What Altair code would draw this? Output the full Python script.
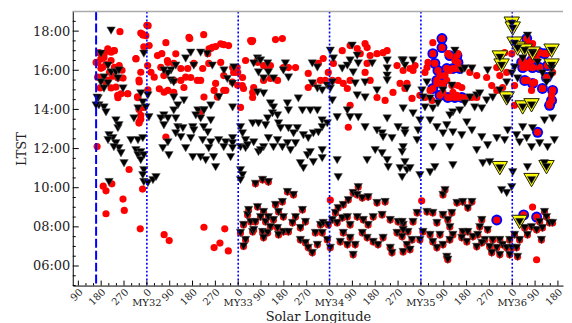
import altair as alt
import pandas as pd

# ---------------- data (x = cumulative solar longitude from MY31 Ls 0, y = LTST hours) ----------------
# plain red circles
red_my31 = [(167,16.4),(179,16.1),(191,16.65),(207,17.0),(230,17.0),(254,17.97),(187,15.6),(207,15.5),(219,15.1),
            (246,14.6),(258,14.8),(285,14.8),(246,15.6),(250,16.1),(266,15.6),(317,16.6),(336,17.9),(344,17.8),
            (360,18.3),(348,17.2),(336,15.9),(329,15.5),(325,14.6),(329,14.0),(336,13.5),(329,13.3),(348,14.1),
            (364,15.0),(160,16.4),(192,16.84),(219,16.92),(232,17.0),(186,16.15),(166,15.65),(238,15.14),
            (245,14.72),(284,14.8),(232,16.15),(251,16.24),(219,16.5),(179,16.58),(206,17.09),(317,16.58),
            (343,17.85),(356,17.77),(365,18.28),(330,15.4),(323,14.64),(330,14.04),(336,13.7),(330,13.36),
            (369,17.26),(363,16.24),(376,15.9),(172,16.9),(199,16.3),(213,15.9),(226,15.7),(262,16.0),
            (176,15.1),(198,15.4)]
red_low_my31 = [(164,12.1),(188,10.08),(199,9.84),(222,10.2),(290,10.93),(266,9.42),(271,8.84),(199,8.67),
                (334,7.9),(343,9.93)]
red_my32 = [(435,17.41),(529,17.62),(584,17.82),(773,17.46),(612,17.11),(631,17.21),(663,17.31),(682,17.26),
            (600,16.85),(419,16.85),(443,16.4),(466,16.35),(494,16.09),(521,16.09),(545,16.35),(580,16.09),
            (604,16.35),(651,16.4),(698,16.14),(718,15.89),(737,15.63),(749,16.5),(494,15.48),(506,15.12),
            (443,14.97),(466,14.87),(572,15.48),(631,15.33),(663,14.97),(639,14.67),(718,15.23),(777,14.87),
            (741,15.07),(663,15.73),(702,15.89),(427,15.73),(533,15.63),(729,14.1),(572,13.85),(435,12.58),
            (777,14.61),(402,16.75),(415,16.15),(389,15.65),(441,16.5),(474,16.84),(513,15.65),(467,15.48),
            (559,15.48),(605,17.09),(618,17.17),(651,17.35),(671,14.97),(697,15.39),(710,15.9),(716,16.15),
            (736,15.22),(409,15.05),(428,14.88),(585,14.63),(625,14.97),(638,14.63),(769,17.52),(526,17.68)]
red_low_my32 = [(428,7.6),(448,7.3),(585,7.98),(625,6.94),(648,7.17),(667,7.9),(681,6.77)]
red_my33 = [(777,17.52),(867,17.57),(894,17.62),(796,16.4),(820,16.24),(847,16.24),(898,16.14),(918,16.14),
            (946,16.14),(847,15.58),(875,15.48),(820,15.48),(781,15.12),(996,15.84),(1036,16.35),(1055,16.6),
            (1095,16.35),(1075,15.89),(1044,15.48),(1063,15.48),(1091,15.48),(1114,15.48),(1134,15.33),
            (1150,15.07),(1161,15.48),(1130,17.0),(1161,17.26),(1189,17.11),(1220,17.36),(1228,17.16),
            (1201,16.85),(1240,16.75),(1267,16.85),(1291,16.9),(1307,17.0),(1228,16.35),(1220,15.89),
            (1240,15.48),(1267,14.61),(1299,14.46),(1330,14.87),(1358,15.33),(1377,15.07),(1370,15.99),
            (1346,16.24),(1161,14.21),(1154,13.09),(996,15.12),(1016,15.33),(796,16.5),(836,16.14),(1083,9.37)]
red_my35 = [(1487,17.41),(1464,16.14),(1456,15.89),(1468,16.4),(1397,16.09),(1417,16.24),(1409,15.99),
            (1385,15.33),(1405,14.56),(1436,14.72),(1456,14.61),(1484,14.46),(1476,14.97),(1503,15.33),
            (1515,15.73),(1535,15.73),(1542,15.48),(1527,15.22),(1527,14.87),(1562,15.22),(1566,14.87),
            (1582,14.72),(1586,15.22),(1601,15.12),(1593,14.61),(1554,14.61),(1601,16.09),(1574,16.09),
            (1554,15.99),(1542,16.09),(1574,16.5),(1586,16.85),(1546,16.85),(1633,15.89),(1660,15.73),
            (1621,14.61),(1641,14.61),(1660,14.61),(1699,15.63),(1739,16.14),(1751,15.73),(1778,15.89),
            (1770,16.9),(1798,16.85),(1719,15.22),(1739,14.97),(1762,15.12),(1809,15.22),(1809,14.21),
            (1443,9.33),(1880,9.01),(1896,6.32)]
red_my36 = [(1841,16.6),(1857,16.35),(1876,16.85),(1880,17.36),(1896,16.6),(1857,16.14),(1880,16.14),
            (1908,16.14),(1935,16.85),(1849,15.48),(1860,15.48),(1888,15.38),(1919,15.07),(1955,14.72),
            (1959,14.97),(1947,14.31),(1876,14.97),(1935,15.63),(1959,15.89),(1860,17.41)]

# red circles with blue outline
blue_ring = [(1523,17.62),(1523,17.16),(1487,16.85),(1495,16.35),(1507,15.99),(1554,16.75),(1582,16.75),
             (1586,16.4),(1593,16.09),(1566,16.09),(1542,16.09),(1503,15.48),(1487,15.07),(1515,14.72),
             (1546,14.61),(1574,14.61),(1601,14.61),(1523,15.33),(1857,17.62),(1857,17.16),(1908,16.9),
             (1927,16.85),(1939,16.24),(1935,15.63),(1959,14.97),(1955,14.46),(1947,14.21),(1919,15.07),
             (1880,15.33),(1849,15.48),(1841,16.14),(1837,16.4),(1876,16.5),(1880,16.14),(1908,16.14),
             (1739,8.35),(1845,8.61),(1896,8.5),(1900,12.83)]

# yellow-outlined triangles
yellow = [(1798,18.38),(1802,18.13),(1809,17.36),(1821,17.11),(1849,17.0),(1880,16.85),(1955,17.0),
          (1955,16.24),(1751,16.65),(1758,16.24),(1778,14.56),(1841,14.1),(1876,14.21),(1751,11.0),
          (1876,10.39),(1935,11.05),(1829,8.25)]

# black triangles (no red underneath)
tri_my31 = [(179,16.85),(207,16.24),(219,15.89),(191,15.63),(179,15.38),(168,14.56),(171,14.21),(191,14.1),
            (199,13.85),(238,13.44),(246,13.04),(250,13.19),(211,12.68),(226,12.53),(207,12.43),(238,12.27),
            (250,12.02),(258,11.76),(230,12.07),(270,11.25),(297,12.43),(325,12.43),(344,12.53),(317,11.92),
            (325,11.66),(336,11.41),(348,10.9),(344,10.64),(348,10.29),(364,10.24),(384,10.39),(396,10.54),
            (336,11.82),(348,11.66),(211,10.29),(219,18.03),(238,15.89),(246,15.58),(250,15.99),(266,15.07),
            (207,15.33),(191,15.07),(336,14.82),(344,14.36),(325,14.05),(309,13.54),(364,14.72),(356,14.1),
            (368,13.6),(348,16.85),(164,14.6),(160,14.2)]
tri_my32 = [(533,16.9),(572,16.9),(545,16.24),(513,16.6),(474,16.24),(455,15.99),(443,15.84),(455,15.48),
            (466,15.38),(427,15.99),(466,14.61),(506,14.46),(482,14.21),(466,13.95),(427,13.7),(415,13.54),
            (443,13.54),(474,13.54),(561,13.95),(584,13.95),(698,14.1),(553,13.7),(572,13.54),(612,13.44),
            (427,13.19),(482,13.09),(502,13.04),(541,13.09),(545,12.93),(584,13.09),(600,12.83),(474,12.78),
            (494,12.58),(533,12.53),(443,12.32),(580,12.43),(612,12.32),(643,12.43),(671,12.32),(698,12.53),
            (729,13.09),(737,12.78),(749,12.43),(729,12.07),(663,12.07),(698,12.27),(423,12.02),(447,11.66),
            (513,12.02),(541,11.56),(572,11.56),(592,11.41),(604,12.02),(623,11.56),(631,11.05),(690,11.56),
            (698,12.02),(749,12.02),(757,12.17),(800,11.82),(729,10.9),(737,10.64),(729,10.39),(598,16.84),
            (618,16.24),(664,15.99),(677,15.56),(697,15.31),(703,16.15),(644,14.63),(612,14.2),(585,13.95)]
tri_my33 = [(796,16.6),(808,16.5),(781,16.35),(836,16.35),(800,15.89),(839,15.89),(820,15.58),(859,15.58),
            (898,15.99),(906,16.35),(918,15.63),(796,14.87),(820,14.82),(847,14.31),(859,14.1),(855,13.8),
            (836,13.54),(875,13.7),(914,14.31),(918,13.95),(957,14.56),(973,13.95),(1004,13.95),(777,13.29),
            (800,13.29),(828,13.19),(879,13.29),(887,13.04),(918,13.04),(953,13.04),(1012,15.33),(1032,15.07),
            (1051,14.97),(1071,15.22),(1083,15.07),(1091,15.38),(1083,17.0),(1095,16.6),(1130,16.09),
            (1150,16.24),(1169,17.26),(1189,16.75),(1161,16.5),(1173,15.89),(1193,16.35),(1181,15.33),
            (1220,15.38),(1189,14.72),(1220,14.61),(1248,16.35),(1307,16.5),(1307,16.09),(1307,15.73),
            (1307,15.48),(1366,16.5),(1377,16.24),(1032,16.14),(1032,13.95),(1051,13.44),(1071,13.29),
            (1091,14.46),(1110,13.6),(1150,13.95),(1161,13.6),(1193,13.6),(1220,13.09),(1307,13.54),
            (1267,12.93),(1287,12.78),(1291,12.58),(1326,12.53),(1350,13.09),(1377,12.93),(1016,12.78),
            (1051,13.09),(1036,12.83),(977,12.68),(996,12.53),(938,12.78),(946,12.27),(914,12.27),(894,12.07),
            (875,12.43),(839,12.53),(820,12.07),(781,12.32),(1267,14.97),(1012,16.35),(859,12.07),(926,11.92),
            (993,11.66),(1004,11.82),(1016,11.31),(977,11.0),(965,11.25),(1051,11.92),(1051,11.51),
            (1110,11.41),(1114,10.54),(1228,11.41),(1260,11.92),(1287,11.76),(1307,11.41),(1311,11.05),
            (1358,11.0),(1385,10.9),(1366,11.82),(808,11.92)]
tri_my35 = [(1370,16.5),(1409,16.5),(1385,15.07),(1444,14.97),(1464,15.38),(1448,14.61),(1456,14.1),
            (1476,14.56),(1507,14.31),(1487,14.05),(1527,14.97),(1562,15.22),(1574,17.0),(1601,15.99),
            (1613,16.09),(1641,16.09),(1633,14.61),(1660,14.72),(1672,14.82),(1613,14.31),(1593,13.95),
            (1566,13.85),(1554,13.7),(1652,14.1),(1680,14.05),(1699,14.46),(1723,14.61),(1703,15.99),
            (1751,14.97),(1782,14.46),(1778,15.38),(1798,15.84),(1809,16.14),(1821,15.58),(1841,16.6),
            (1860,17.77),(1880,16.9),(1900,16.4),(1919,15.84),(1935,15.38),(1955,16.09),(1955,15.73),
            (1927,13.44),(1959,13.54),(1370,14.05),(1409,13.8),(1436,13.44),(1429,12.93),(1377,12.78),
            (1425,12.43),(1476,13.44),(1503,13.09),(1542,13.19),(1527,12.78),(1566,12.83),(1601,12.68),
            (1621,13.34),(1641,12.93),(1680,12.58),(1703,12.17),(1739,12.53),(1782,12.93),(1770,12.43),
            (1817,12.68),(1829,12.32),(1857,12.53),(1876,12.07),(1908,12.27),(1939,12.07),(1966,12.43),
            (1841,13.09),(1880,13.04),(1370,12.07),(1487,12.07),(1554,12.07),(1660,11.92),(1397,11.0),
            (1436,10.64),(1476,10.79),(1495,11.05),(1566,11.15),(1684,11.25),(1711,11.31),(1758,9.88),
            (1778,9.73),(1798,10.03),(1802,10.79),(1860,11.05),(1927,11.25),(1377,11.31),(1366,10.54)]

# morning band: red circle with black triangle on top
pair_my33 = [(788,10.2),(816,10.4),(839,10.29),(729,7.69),(741,8.1),(757,8.61),(769,8.25),(749,7.33),
             (777,7.74),(761,8.86),(741,7.0),(796,9.01),(820,8.76),(808,8.5),(788,8.25),(828,8.25),(839,8.5),
             (781,7.84),(816,7.74),(836,7.69),(820,7.44),(867,9.12),(894,9.27),(914,9.78),(938,9.63),
             (879,8.76),(898,8.5),(859,8.35),(875,7.94),(898,7.74),(918,7.74),(879,7.59),(847,7.99),(934,8.2),
             (946,8.5),(973,8.86),(985,8.25),(965,7.94),(965,7.33),(985,7.18),(996,6.93),(1012,6.67),
             (1032,7.08),(1024,7.69),(1044,8.1),(1055,8.2),(1075,8.1),(1051,7.69),(1071,7.33),(1083,6.93)]
pair_my34 = [(1091,8.35),(1103,8.71),(1114,8.96),(1134,9.12),(1154,9.37),(1173,9.73),(1193,10.03),
             (1189,9.63),(1209,9.47),(1232,9.52),(1267,9.22),(1299,9.27),(1110,8.2),(1130,8.45),(1150,8.5),
             (1161,8.1),(1189,8.5),(1213,8.35),(1232,8.1),(1252,8.5),(1287,8.61),(1319,8.35),(1350,8.25),
             (1370,8.1),(1134,7.69),(1161,7.44),(1181,7.08),(1173,6.57),(1209,7.69),(1228,7.44),(1252,7.23),
             (1271,7.08),(1291,7.44),(1319,6.93),(1326,6.67),(1346,7.69),(1366,7.49),(1385,7.08),(1370,6.72),
             (1122,7.23),(1150,7.08),(1425,8.71),(1366,8.25),(1389,7.74),(1405,7.33),(1409,8.25),(1370,7.84),
             (1397,6.83)]
pair_my35 = [(1464,8.76),(1487,8.71),(1503,8.2),(1436,7.33),(1527,8.61),(1546,8.35),(1582,9.22),(1605,9.27),
             (1641,9.27),(1625,8.96),(1527,9.63),(1535,9.88),(1562,8.71),(1554,7.99),(1566,7.59),(1554,7.33),
             (1542,6.47),(1546,6.32),(1605,7.74),(1625,7.74),(1660,6.98),(1680,8.35),(1703,7.84),(1672,7.99),
             (1692,7.33),(1723,7.33),(1711,6.98),(1751,7.33),(1762,7.08),(1739,6.93),(1778,6.93),(1751,6.57),
             (1719,6.67),(1448,7.74),(1476,7.59),(1487,7.23),(1515,7.59),(1527,7.08),(1503,6.93),(1601,7.44),
             (1621,7.23),(1645,7.49),(1664,7.59),(1680,7.18)]
pair_my36 = [(1798,6.93),(1817,6.93),(1790,7.33),(1829,7.33),(1809,7.59),(1849,7.94),(1860,7.59),(1876,7.99),
             (1896,7.84),(1908,8.25),(1927,8.76),(1935,8.5),(1947,8.2),(1959,8.2),(1919,7.94),(1915,7.33),
             (1790,6.57),(1821,6.47)]

# axis / annotation values
x_major = [90, 180, 270, 360, 450, 540, 630, 720, 810, 900, 990, 1080, 1170, 1260, 1350, 1440,
           1530, 1620, 1710, 1800, 1890, 1980]
x_minor = [v for v in range(90, 2000, 30) if v % 90 != 0]
y_major = [6, 8, 10, 12, 14, 16, 18]
y_minor = [v / 2 for v in range(10, 39) if v % 4 != 0]
year_starts = [360, 720, 1080, 1440, 1800]
year_names = ["MY32", "MY33", "MY34", "MY35", "MY36"]
landing = [160]

# ---------------- chart ----------------
W, H = 492, 275
FONT = "DejaVu Serif"
TXT = "#222222"
xs = alt.Scale(domain=[68, 2000], nice=False, zero=False)
ys = alt.Scale(domain=[5, 19], nice=False, zero=False)


def df(*groups):
    rows = [p for g in groups for p in g]
    return pd.DataFrame(rows, columns=["ls", "ltst"])


x_axis = alt.Axis(values=x_major, labelExpr="'' + (datum.value % 360)", labelAngle=-45,
                  labelAlign="right", labelBaseline="middle", labelPadding=4.5, labelOffset=2.5,
                  ticks=False, tickSize=0,
                  grid=False, domainColor="black", domainWidth=1, labelFont=FONT, labelFontSize=10,
                  labelColor=TXT, title="Solar Longitude", titleFont=FONT, titleFontSize=13,
                  titleFontWeight="normal", titleColor=TXT, titlePadding=4, labelOverlap=False,
                  labelFlush=False)
y_axis = alt.Axis(values=y_major, labelExpr="(datum.value < 10 ? '0' : '') + datum.value + ':00'",
                  ticks=False, tickSize=0, grid=False, domainColor="black", domainWidth=1, labelFont=FONT,
                  labelFontSize=13, labelColor=TXT, labelPadding=3, title="LTST", titleFont=FONT,
                  titleFontSize=13, titleFontWeight="normal", titleColor=TXT, titlePadding=4,
                  labelOverlap=False)

X = lambda: alt.X("ls:Q", scale=xs, axis=x_axis)
Y = lambda: alt.Y("ltst:Q", scale=ys, axis=y_axis)


def pts(data):
    return alt.Chart(data).encode(x=X(), y=Y())


pairs = df(pair_my33, pair_my34, pair_my35, pair_my36)
blue_layer = pts(df(blue_ring)).mark_point(shape="circle", filled=True, size=120, color="#0000ff", opacity=1)
red_layer = pts(pd.concat([df(red_my31, red_low_my31, red_my32, red_low_my32, red_my33, red_my35,
                              red_my36, blue_ring), pairs])).mark_point(
    shape="circle", filled=True, size=52, color="#ff0000", opacity=1)
yellow_layer = pts(df(yellow)).mark_point(shape="triangle-down", filled=True, size=240, fill="#ffff00",
                                          stroke="#222200", strokeWidth=1, opacity=1)
black_layer = pts(pd.concat([df(tri_my31, tri_my32, tri_my33, tri_my35, yellow), pairs])).mark_point(
    shape="triangle-down", filled=True, size=72, color="black", stroke="#555555", strokeWidth=0.5,
    opacity=1)

vdash = alt.Chart(pd.DataFrame({"ls": landing})).mark_rule(
    color="#0000ff", strokeWidth=2, strokeDash=[9, 3]).encode(x=X())
vdot = alt.Chart(pd.DataFrame({"ls": year_starts})).mark_rule(
    color="#0000ff", strokeWidth=1.6, strokeDash=[2, 2]).encode(x=X())

xt_major = alt.Chart(pd.DataFrame({"ls": x_major})).mark_rule(color="black", strokeWidth=1).encode(
    x=X(), y=alt.value(H), y2=alt.value(H - 5))
xt_minor = alt.Chart(pd.DataFrame({"ls": x_minor})).mark_rule(color="black", strokeWidth=1).encode(
    x=X(), y=alt.value(H), y2=alt.value(H - 2.5))
yt_major = alt.Chart(pd.DataFrame({"ltst": y_major})).mark_rule(color="black", strokeWidth=1).encode(
    y=Y(), x=alt.value(0), x2=alt.value(6))
yt_minor = alt.Chart(pd.DataFrame({"ltst": y_minor})).mark_rule(color="black", strokeWidth=1).encode(
    y=Y(), x=alt.value(0), x2=alt.value(3))
top_line = alt.Chart(pd.DataFrame({"a": [0]})).mark_rule(color="#aaaaaa", strokeWidth=1.5).encode(
    x=alt.value(0), x2=alt.value(W), y=alt.value(0))

my_text = alt.Chart(pd.DataFrame({"ls": year_starts, "lab": year_names})).mark_text(
    font=FONT, fontSize=10, color=TXT, align="center", baseline="middle").encode(
    x=X(), y=alt.value(H + 17), text="lab:N")

chart = alt.layer(
    blue_layer, red_layer, yellow_layer, black_layer, vdash, vdot,
    xt_major, xt_minor, yt_major, yt_minor, top_line, my_text
).properties(
    width=W, height=H, padding={"left": 7, "top": 2, "right": 0, "bottom": 0}
).configure_view(stroke=None)

chart.save("out.html", embed_options={"renderer": "svg", "actions": False})
